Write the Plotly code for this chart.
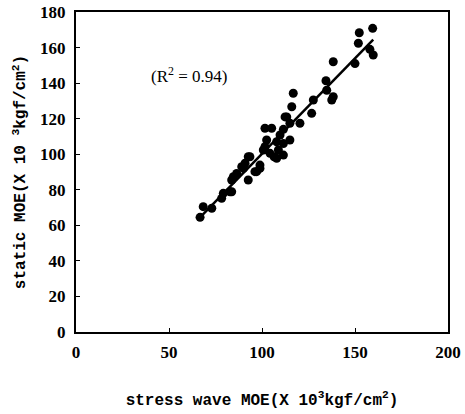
import numpy as np
import plotly.graph_objects as go

# stress wave MOE (x 10^3 kgf/cm^2)
stress_wave_moe = [66.7, 68.4, 73.0, 78.3, 79.2, 83.7, 83.7, 86.4, 90.0, 90.9,
                   93.5, 92.6, 97.1, 98.9, 101.6, 102.5, 106.5, 108.8, 111.5, 115.0,
                   101.6, 105.2, 109.7, 107.9, 104.3, 100.7, 84.6, 89.1, 98.9, 96.2,
                   113.3, 115.0, 120.4, 116.8, 116.0, 112.4, 111.5, 107.9, 127.6, 126.7,
                   134.4, 134.8, 138.3, 137.5, 138.3, 150.0, 151.8, 152.3, 159.5, 158.0,
                   159.8, 82.8, 92.6, 111.5]
# static MOE (x 10^3 kgf/cm^2)
static_moe = [64.5, 70.5, 69.6, 75.2, 78.0, 78.9, 85.5, 89.2, 92.0, 94.9,
              98.6, 85.5, 90.2, 92.0, 104.2, 108.0, 98.6, 102.4, 99.5, 108.0,
              114.6, 114.6, 110.8, 97.7, 100.5, 102.4, 87.3, 93.0, 93.9, 90.2,
              121.0, 117.4, 117.4, 134.3, 126.7, 121.0, 106.0, 107.0, 130.5, 123.0,
              141.3, 136.0, 132.3, 130.5, 152.0, 151.0, 162.4, 168.3, 170.8, 159.0,
              155.8, 78.9, 98.6, 114.0]

x_ticks = [0, 50, 100, 150, 200]
y_ticks = [0, 20, 40, 60, 80, 100, 120, 140, 160, 180]
r2_label = "(R<sup>2</sup> = 0.94)"

slope, intercept = np.polyfit(stress_wave_moe, static_moe, 1)
fx = np.array([min(stress_wave_moe), max(stress_wave_moe)])
fy = slope * fx + intercept

fig = go.Figure()
fig.add_trace(go.Scatter(x=stress_wave_moe, y=static_moe, mode="markers",
                         marker=dict(color="black", size=9), showlegend=False))
fig.add_trace(go.Scatter(x=fx, y=fy, mode="lines",
                         line=dict(color="black", width=2.5), showlegend=False))

fig.add_annotation(x=61, y=144.5, text=r2_label, showarrow=False,
                   font=dict(family="Liberation Serif", size=17, color="black"))

tick_font = dict(family="Liberation Serif", size=17, color="black")
title_font = dict(family="Liberation Mono", size=16, color="black")

fig.update_xaxes(range=[0, 200], tickvals=x_ticks, ticktext=[f"<b>{v}</b>" for v in x_ticks],
                 showline=True, linecolor="black", linewidth=2, mirror=True,
                 ticks="inside", ticklen=4, tickcolor="black", showgrid=False, zeroline=False,
                 tickfont=tick_font, automargin=False, ticklabelstandoff=4,
                 title=dict(text="<b>stress wave MOE(X 10<sup>3</sup>kgf/cm<sup>2</sup>)</b>",
                            font=title_font, standoff=32))
fig.update_yaxes(range=[0, 180], tickvals=y_ticks, ticktext=[f"<b>{v}</b>" for v in y_ticks],
                 showline=True, linecolor="black", linewidth=2, mirror=True,
                 ticks="inside", ticklen=4, tickcolor="black", showgrid=False, zeroline=False,
                 tickfont=tick_font, automargin=False, ticklabelstandoff=5,
                 title=dict(text="<b>static MOE(X 10 <sup>3</sup>kgf/cm<sup>2</sup>)</b>",
                            font=title_font, standoff=10))

fig.update_layout(width=465, height=414, plot_bgcolor="white", paper_bgcolor="white",
                  margin=dict(l=76, r=17, t=12, b=82))

fig.write_html("out.html", config={"displayModeBar": False},
               post_script="document.body.style.margin='0px';")
